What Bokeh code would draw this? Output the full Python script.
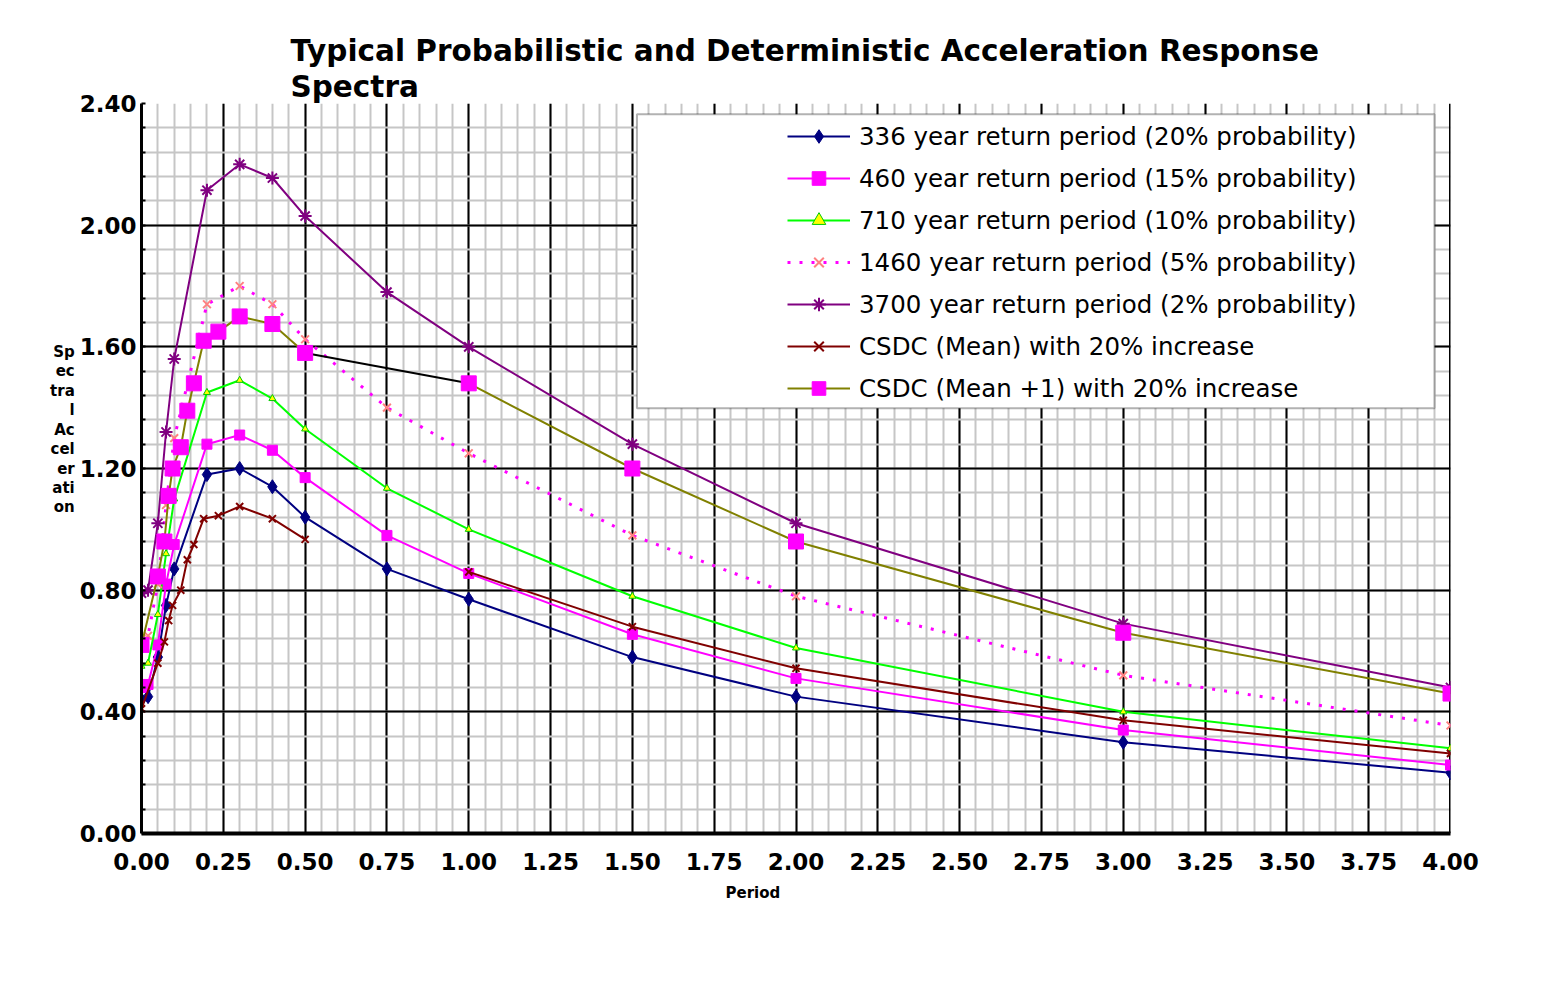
from bokeh.plotting import figure
from bokeh.models import (FixedTicker, PrintfTickFormatter, Legend, LegendItem,
                          BoxAnnotation, Title, Span, Range1d)
from bokeh.embed import file_html
from bokeh.resources import INLINE

# ---------------- data ----------------
title_line1 = "Typical Probabilistic and Deterministic Acceleration Response"
title_line2 = "Spectra"
x_label = "Period"
y_label_fragments = ["Sp", "ec", "tra", "l", "Ac", "cel", "er", "ati", "on"]

x_ticks = [0.0, 0.25, 0.5, 0.75, 1.0, 1.25, 1.5, 1.75, 2.0, 2.25, 2.5, 2.75, 3.0, 3.25, 3.5, 3.75, 4.0]
y_ticks = [0.0, 0.4, 0.8, 1.2, 1.6, 2.0, 2.4]

# probabilistic spectra
period_prob = [0.0, 0.02, 0.05, 0.075, 0.1, 0.2, 0.3, 0.4, 0.5, 0.75, 1.0, 1.5, 2.0, 3.0, 4.0]
sa_336 = [0.44, 0.45, 0.58, 0.75, 0.87, 1.18, 1.20, 1.14, 1.04, 0.87, 0.77, 0.58, 0.45, 0.30, 0.20]
sa_460 = [0.48, 0.49, 0.62, 0.82, 0.95, 1.28, 1.31, 1.26, 1.17, 0.98, 0.855, 0.655, 0.51, 0.34, 0.225]
sa_710 = [0.55, 0.56, 0.72, 0.92, 1.10, 1.45, 1.49, 1.43, 1.33, 1.135, 1.00, 0.78, 0.61, 0.40, 0.28]
sa_1460 = [0.64, 0.65, 0.82, 1.08, 1.30, 1.74, 1.80, 1.74, 1.625, 1.40, 1.25, 0.98, 0.78, 0.52, 0.355]
sa_3700 = [0.79, 0.80, 1.02, 1.32, 1.56, 2.115, 2.20, 2.155, 2.03, 1.78, 1.60, 1.28, 1.02, 0.69, 0.48]

# deterministic (CSDC) spectra
period_csdc = [0.0, 0.05, 0.07, 0.083, 0.095, 0.12, 0.14, 0.16, 0.19, 0.235, 0.3, 0.4, 0.5,
               1.0, 1.5, 2.0, 3.0, 4.0]
sa_csdc_mean = [0.41, 0.56, 0.63, 0.70, 0.75, 0.80, 0.90, 0.95, 1.035, 1.045, 1.075, 1.035, 0.967,
                0.86, 0.68, 0.543, 0.372, 0.263]
sa_csdc_mean1 = [0.62, 0.845, 0.96, 1.11, 1.20, 1.27, 1.39, 1.48, 1.62, 1.65, 1.70, 1.675, 1.58,
                 1.48, 1.20, 0.96, 0.66, 0.46]

legend_labels = [
    "336 year return period (20% probability)",
    "460 year return period (15% probability)",
    "710 year return period (10% probability)",
    "1460 year return period (5% probability)",
    "3700 year return period (2% probability)",
    "CSDC (Mean) with 20% increase",
    "CSDC (Mean +1) with 20% increase",
]

# ---------------- figure ----------------
p = figure(width=1548, height=975, x_range=Range1d(0, 4), y_range=Range1d(0, 2.4),
           output_backend="svg", toolbar_location=None, title=None,
           min_border_left=141, min_border_right=98, min_border_top=103, min_border_bottom=142)
p.background_fill_color = "white"
p.border_fill_color = "white"
p.outline_line_color = None

x_minor = [i * 0.05 for i in range(81)]
y_minor = [i * 0.08 for i in range(31)]
p.xaxis.ticker = FixedTicker(ticks=x_ticks, minor_ticks=x_minor)
p.yaxis.ticker = FixedTicker(ticks=y_ticks, minor_ticks=y_minor)
p.xaxis.formatter = PrintfTickFormatter(format="%.2f")
p.yaxis.formatter = PrintfTickFormatter(format="%.2f")

for g in (p.xgrid, p.ygrid):
    g.grid_line_color = "black"
    g.grid_line_width = 2
    g.minor_grid_line_color = "#c6c6c6"
    g.minor_grid_line_width = 2

for ax in (p.xaxis, p.yaxis):
    ax.axis_line_color = "black"
    ax.major_tick_in = 0
    ax.major_tick_out = 0
    ax.major_label_text_font = "DejaVu Sans"
    ax.major_label_text_font_style = "bold"
    ax.major_label_text_font_size = "23px"
    ax.major_label_text_color = "black"
p.xaxis.axis_line_width = 4
p.yaxis.axis_line_width = 3
p.xaxis.minor_tick_in = 0
p.xaxis.minor_tick_out = 0
p.yaxis.minor_tick_in = 4
p.yaxis.minor_tick_out = 0
p.yaxis.minor_tick_line_color = "black"
p.yaxis.minor_tick_line_width = 2
p.xaxis.major_label_standoff = 19
p.yaxis.major_label_standoff = 5

# garbled, stacked y-axis title as in the original (padded so it sits higher)
p.yaxis.axis_label = "\n".join(y_label_fragments + [" "] * 4)
p.yaxis.axis_label_orientation = "horizontal"
p.yaxis.axis_label_text_font = "DejaVu Sans"
p.yaxis.axis_label_text_font_size = "15px"
p.yaxis.axis_label_text_font_style = "bold"
p.yaxis.axis_label_text_line_height = 1.08
p.yaxis.axis_label_standoff = 2
p.yaxis.axis_label_text_color = "black"

p.add_layout(Span(location=4, dimension="height", line_color="black", line_width=3, level="underlay"))

# ---------------- series ----------------
l336 = p.line(period_prob, sa_336, line_color="#000080", line_width=2)
m336 = p.scatter(period_prob, sa_336, marker="diamond", size=14, fill_color="#000080", line_color="#000080")

l460 = p.line(period_prob, sa_460, line_color="#FF00FF", line_width=2)
m460 = p.scatter(period_prob, sa_460, marker="square", size=10, fill_color="#FF00FF", line_color="#FF00FF")

l710 = p.line(period_prob, sa_710, line_color="#00FF00", line_width=2)
m710 = p.scatter(period_prob, sa_710, marker="triangle", size=7, fill_color="#FFFF00", line_color="#00CC00")

l1460 = p.line(period_prob, sa_1460, line_color="#FF00FF", line_width=3, line_dash="3 9")
m1460 = p.scatter(period_prob, sa_1460, marker="x", size=11, line_color="#FF8080", line_width=2)

l3700 = p.line(period_prob, sa_3700, line_color="#800080", line_width=2)
m3700 = p.scatter(period_prob, sa_3700, marker="asterisk", size=13, line_color="#800080", line_width=2)

n = 13  # first index after the gap in the CSDC records
lm_a = p.line(period_csdc[:n], sa_csdc_mean[:n], line_color="#800000", line_width=2)
lm_b = p.line(period_csdc[n:], sa_csdc_mean[n:], line_color="#800000", line_width=2)
mm = p.scatter(period_csdc, sa_csdc_mean, marker="x", size=10, line_color="#800000", line_width=2)

lp_a = p.line(period_csdc[:n], sa_csdc_mean1[:n], line_color="#808000", line_width=2)
lp_mid = p.line(period_csdc[n - 1:n + 1], sa_csdc_mean1[n - 1:n + 1], line_color="black", line_width=2)
lp_b = p.line(period_csdc[n:], sa_csdc_mean1[n:], line_color="#808000", line_width=2)
mp = p.scatter(period_csdc, sa_csdc_mean1, marker="square", size=15, fill_color="#FF00FF", line_color="#FF00FF")

# ---------------- legend ----------------
box = BoxAnnotation(left=1.514, right=3.951, top=2.365, bottom=1.398,
                    fill_color="white", fill_alpha=1.0, line_color="black", line_width=2)
p.add_layout(box)

items = [
    LegendItem(label=legend_labels[0], renderers=[l336, m336]),
    LegendItem(label=legend_labels[1], renderers=[l460, m460]),
    LegendItem(label=legend_labels[2], renderers=[l710, m710]),
    LegendItem(label=legend_labels[3], renderers=[l1460, m1460]),
    LegendItem(label=legend_labels[4], renderers=[l3700, m3700]),
    LegendItem(label=legend_labels[5], renderers=[lm_a, mm]),
    LegendItem(label=legend_labels[6], renderers=[lp_a, mp]),
]
legend = Legend(items=items, location=(646, 428), border_line_color=None,
                background_fill_alpha=0, padding=0, margin=0, spacing=8,
                glyph_width=63, glyph_height=34, label_standoff=9,
                label_text_font="DejaVu Sans", label_text_font_size="24.5px",
                label_text_color="black")
p.add_layout(legend)

# ---------------- titles ----------------
t2 = Title(text=title_line2, align="left", offset=149, standoff=0,
           text_font="DejaVu Sans", text_font_size="29.5px", text_font_style="bold", text_color="black")
p.add_layout(t2, "above")
t1 = Title(text=title_line1, align="left", offset=149, standoff=0,
           text_font="DejaVu Sans", text_font_size="29.5px", text_font_style="bold", text_color="black")
p.add_layout(t1, "above")

tx = Title(text=x_label, align="left", offset=584, standoff=18,
           text_font="DejaVu Sans", text_font_size="15px", text_font_style="bold", text_color="black")
p.add_layout(tx, "below")

open("out.html", "w").write(file_html(p, INLINE))
